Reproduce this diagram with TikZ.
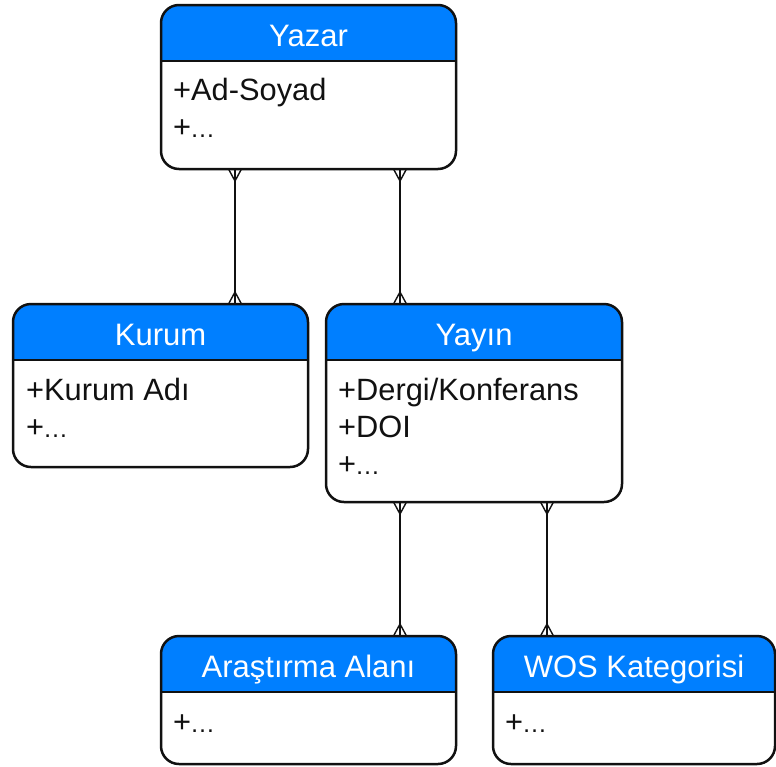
\documentclass[tikz,border=0pt]{standalone}
\usepackage{fontspec}
\setmainfont{Liberation Sans}
\usetikzlibrary{fit}

\definecolor{hdrblue}{RGB}{0,127,255}
\definecolor{ink}{RGB}{17,17,17}

% crow's foot ("many") end for the relationship lines
\pgfdeclarearrow{
  name = Crow,
  setup code = {
    \pgfarrowssettipend{0pt}
    \pgfarrowssetlineend{0pt}
    \pgfarrowssetbackend{-12pt}
    \pgfarrowshullpoint{0pt}{6.5pt}
    \pgfarrowshullpoint{0pt}{-6.5pt}
    \pgfarrowshullpoint{-12pt}{0pt}
  },
  drawing code = {
    \pgfsetdash{}{0pt}
    \pgfpathmoveto{\pgfqpoint{-12pt}{0pt}}
    \pgfpathlineto{\pgfqpoint{0pt}{6.5pt}}
    \pgfpathmoveto{\pgfqpoint{-12pt}{0pt}}
    \pgfpathlineto{\pgfqpoint{0pt}{-6.5pt}}
    \pgfusepathqstroke
  }
}

\newcommand\hdrfont{\fontsize{31}{36}\selectfont}
\newcommand\bodyfont{\fontsize{30.8}{36}\selectfont}
% attribute placeholder with small dots
\newcommand\more{+{\fontsize{25}{30}\selectfont\kern-1pt…}}

% entity box: #1 name, #2 x1, #3 y1 (top), #4 x2, #5 y2 (bottom), #6 title
\newcommand\erentity[6]{%
  \begin{scope}
    \clip[rounded corners=18pt] (#2,#3) rectangle (#4,#5);
    \fill[white] (#2,#3) rectangle (#4,#5);
    \fill[hdrblue] (#2,#3) rectangle (#4,#3+56);
  \end{scope}
  \draw[line width=2pt, ink] (#2,#3+56) -- (#4,#3+56);
  \node[fit={(#2,#3)(#4,#5)}, inner sep=0pt, outer sep=0pt, draw=ink,
        line width=2.5pt, rounded corners=18pt] (#1) {};
  \node[hdrtext] (#1-title) at ({(#2+#4)/2},#3+41) {#6};
}

\tikzset{
  hdrtext/.style={anchor=base, text=white, font=\hdrfont, inner sep=0pt},
  attr/.style={anchor=base west, text=ink, font=\bodyfont, inner sep=0pt},
  rel/.style={draw=ink, line width=1.4pt, Crow-Crow},
}

\begin{document}
\begin{tikzpicture}[x=1pt, y=-1pt]
  \useasboundingbox (0,0) rectangle (776,766);

  \erentity{yazar}{161}{5}{456}{169}{Yazar}
  \node[attr] (yazar-a1) at (173,100) {+Ad-Soyad};
  \node[attr] (yazar-a2) at (173,137) {\more};

  \erentity{kurum}{13}{304}{308}{467}{Kurum}
  \node[attr] (kurum-a1) at (26,400) {+Kurum Adı};
  \node[attr] (kurum-a2) at (26,437) {\more};

  \erentity{yayin}{326}{304}{622}{502}{Yayın}
  \node[attr] (yayin-a1) at (338,400) {+Dergi/Konferans};
  \node[attr] (yayin-a2) at (338,437) {+DOI};
  \node[attr] (yayin-a3) at (338,474) {\more};

  \erentity{alan}{161}{636}{456}{764}{Araştırma Alanı}
  \node[attr] (alan-a1) at (173,732) {\more};

  \erentity{wos}{493}{636}{775}{764}{WOS Kategorisi}
  \node[attr] (wos-a1) at (505,732) {\more};

  % relationships
  \draw[rel] ([xshift=74pt]yazar.south west) -- ([xshift=222pt]kurum.north west);
  \draw[rel] ([xshift=239pt]yazar.south west) -- ([xshift=74pt]yayin.north west);
  \draw[rel] ([xshift=74pt]yayin.south west) -- ([xshift=239pt]alan.north west);
  \draw[rel] ([xshift=221pt]yayin.south west) -- ([xshift=54pt]wos.north west);
\end{tikzpicture}
\end{document}
